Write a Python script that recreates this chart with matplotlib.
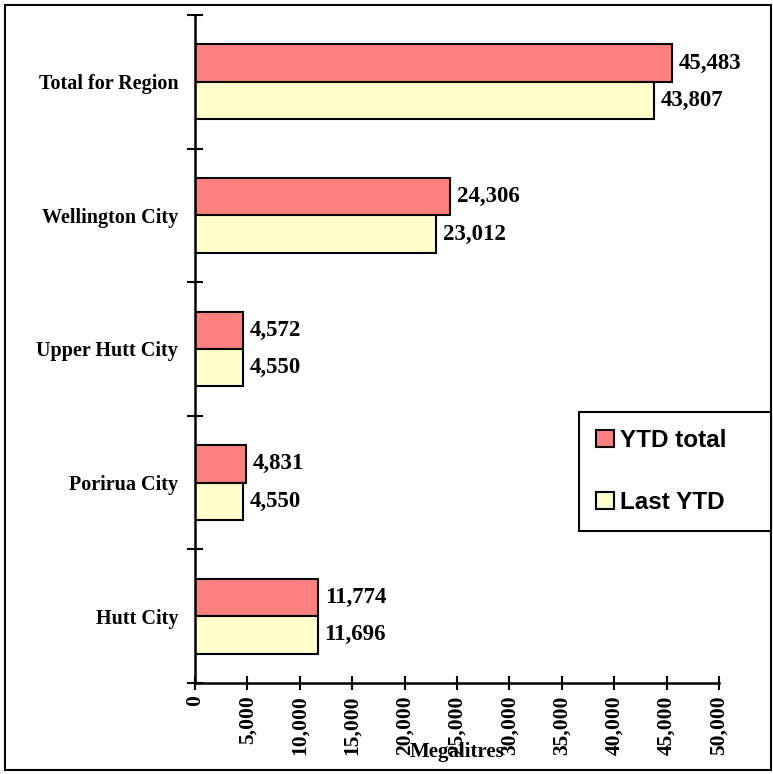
import matplotlib.pyplot as plt
import numpy as np
from matplotlib.patches import Rectangle

# water use by council, bottom to top
cities = ['Hutt City', 'Porirua City', 'Upper Hutt City', 'Wellington City', 'Total for Region']
ytd_total = [11774, 4831, 4572, 24306, 45483]
last_ytd = [11696, 4550, 4550, 23012, 43807]
xticks = np.arange(0, 50001, 5000)

serif = ['Liberation Serif', 'DejaVu Serif']
sans = ['Liberation Sans', 'DejaVu Sans']

fig = plt.figure(figsize=(7.73, 7.74), dpi=100)
ax = fig.add_axes([0.2523, 0.1176, 0.678, 0.863])

y = np.arange(len(cities))
h = 0.28
b1 = ax.barh(y + h / 2, ytd_total, height=h, color='#FF8080', edgecolor='black', lw=1.5, label='YTD total')
b2 = ax.barh(y - h / 2, last_ytd, height=h, color='#FFFFCC', edgecolor='black', lw=1.5, label='Last YTD')

for bars in (b1, b2):
    ax.bar_label(bars, labels=[f'{v:,}' for v in bars.datavalues], padding=5,
                 fontsize=16.5, fontweight='bold', family=serif)

ax.set_xlim(0, 50000)
ax.set_ylim(-0.5, len(cities) - 0.5)
ax.set_xticks(xticks)
ax.set_xticklabels([f'{v:,}' for v in xticks], rotation=90, fontsize=15.5,
                   fontweight='bold', family=serif)
ax.set_yticks(y)
ax.set_yticklabels(cities, fontsize=14.5, fontweight='bold', family=serif)
ax.set_yticks(np.arange(-0.5, len(cities)), minor=True)
ax.tick_params(axis='y', which='major', length=0, pad=12)
ax.tick_params(axis='y', which='minor', direction='inout', length=12, width=1.5)
ax.tick_params(axis='x', direction='inout', length=10, width=1.5, pad=4)

for s in ('top', 'right'):
    ax.spines[s].set_visible(False)
for s in ('left', 'bottom'):
    ax.spines[s].set_linewidth(1.8)

ax.text(0.5, -0.104, 'Megalitres', transform=ax.transAxes, ha='center', va='center',
        fontsize=15, fontweight='bold', family=serif)

leg_top = 1 - 412 / 774
leg = fig.legend(loc='upper left',
                 bbox_to_anchor=(579 / 773, leg_top - 0.1, 192 / 773, 0.1),
                 mode='expand', fancybox=False, framealpha=1, edgecolor='black',
                 prop={'family': sans, 'weight': 'bold', 'size': 17.5},
                 handlelength=0.75, handleheight=0.75, handletextpad=0.25,
                 labelspacing=1.6, borderpad=0.7, borderaxespad=0)
leg.get_frame().set_linewidth(1.5)

fig.patches.append(Rectangle((0.0065, 0.005), 0.991, 0.9885, transform=fig.transFigure,
                             fill=False, lw=1.5, edgecolor='black'))

fig.savefig('out.png', dpi=100)
